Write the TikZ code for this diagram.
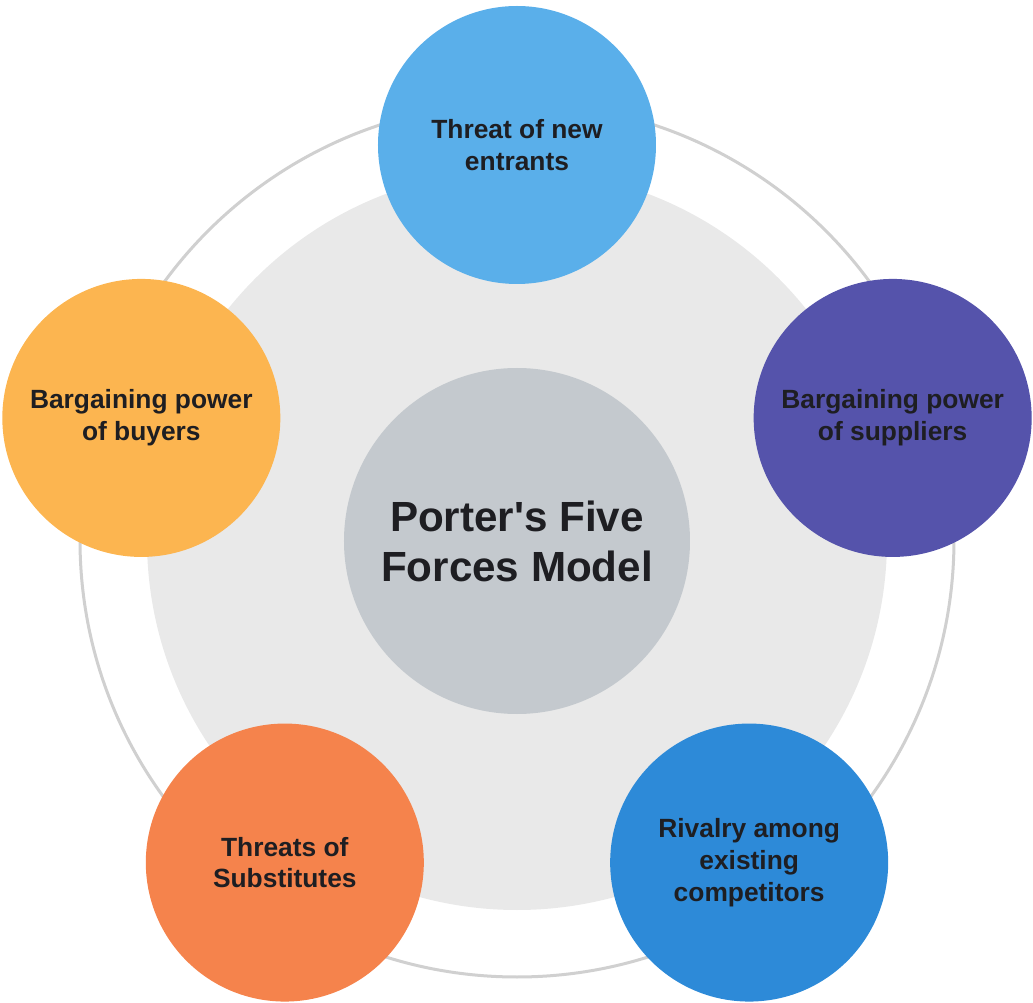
\documentclass[tikz,border=0pt]{standalone}
\usepackage{fontspec}
\setmainfont{Liberation Sans}[Ligatures=TeXOff]

\definecolor{ringgray}{HTML}{D0D0D0}
\definecolor{discgray}{HTML}{E9E9E9}
\definecolor{hubgray}{HTML}{C4C9CE}
\definecolor{labeltext}{HTML}{1E1E22}
\definecolor{newblue}{HTML}{5AAFEA}
\definecolor{supplierpurple}{HTML}{5553AB}
\definecolor{rivalblue}{HTML}{2D8AD8}
\definecolor{substorange}{HTML}{F5834C}
\definecolor{buyeryellow}{HTML}{FCB550}

\begin{document}
\begin{tikzpicture}[semithick,
        force/.style = {circle, minimum size=5.56cm, inner sep=0pt, align=center,
            text=labeltext, font=\fontsize{15}{18}\selectfont\bfseries},
        hub/.style = {circle, fill=hubgray, minimum size=6.92cm, inner sep=0pt, align=center,
            text=labeltext, font=\fontsize{24}{28.5}\selectfont\bfseries}]
            \useasboundingbox (-10.34,-9.26) rectangle (10.32,10.80);

            % ring and disc behind the forces
            \node[circle, draw=ringgray, line width=0.06cm, minimum size=17.48cm, inner sep=0pt] (ring) at (0,0) {};
            \node[circle, fill=discgray, minimum size=14.8cm, inner sep=0pt] (disc) at (0,0) {};

            \node[hub] (c) at (0,-0.02) {Porter's Five\\Forces Model};

            % the five forces
            \node[force, fill=newblue] (1) at (90:7.9) {Threat of new\\entrants};
            \node[force, fill=supplierpurple] (2) at (18:7.9) {Bargaining power\\of suppliers};
            \node[force, fill=rivalblue, yshift=-0.06cm] (3) at (-54:7.9) {Rivalry among\\existing\\competitors};
            \node[force, fill=substorange, yshift=-0.06cm] (4) at (-126:7.9) {Threats of\\Substitutes};
            \node[force, fill=buyeryellow] (5) at (162:7.9) {Bargaining power\\of buyers};

        \end{tikzpicture}
\end{document}
